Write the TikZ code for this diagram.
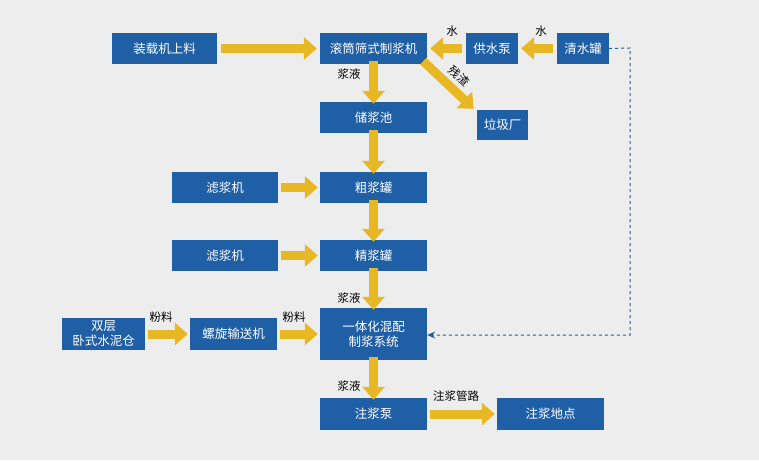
\documentclass[tikz,border=0pt]{standalone}
\usepackage{fontspec}
\setmainfont{Noto Sans CJK SC}
\usetikzlibrary{arrows.meta}
\definecolor{bg}{HTML}{EDEDED}
\definecolor{bx}{HTML}{1F5FA6}
\definecolor{ar}{HTML}{E8B824}
\begin{document}
\begin{tikzpicture}[x=1pt,y=-1pt,
  box/.style={fill=bx,text=white,font=\fontsize{12.5}{15}\selectfont,inner sep=0pt,align=center},
  ya/.style={draw=ar,line width=9pt,-{Triangle[width=22pt,length=13pt]}},
  lb/.style={font=\fontsize{11.5}{13}\selectfont,inner sep=1pt}]
\fill[bg] (0,0) rectangle (759,460);
\useasboundingbox (0,0) rectangle (759,460);
\newcommand\bx[6]{\node[box,minimum width=#4-#2,minimum height=#5-#3] (#1) at ({(#2+#4)/2},{(#3+#5)/2}) {#6};}
\bx{zz}{112}{33}{217}{64}{装载机上料}
\bx{gt}{320}{33}{427}{64}{滚筒筛式制浆机}
\bx{gs}{466}{33}{518}{64}{供水泵}
\bx{qs}{557}{33}{609}{64}{清水罐}
\bx{lj}{477}{110}{528}{140}{垃圾厂}
\bx{cj}{320}{102}{427}{133}{储浆池}
\bx{l1}{172}{172}{278}{203}{滤浆机}
\bx{cu}{320}{172}{427}{203}{粗浆罐}
\bx{l2}{172}{240}{278}{271}{滤浆机}
\bx{jj}{320}{240}{427}{271}{精浆罐}
\bx{sc}{62}{318}{145}{350}{双层\\卧式水泥仓}
\bx{lx}{190}{318}{277}{350}{螺旋输送机}
\bx{yt}{320}{308}{427}{360}{一体化混配\\制浆系统}
\bx{zb}{320}{398}{427}{430}{注浆泵}
\bx{dd}{497}{398}{604}{430}{注浆地点}
\draw[ya] (zz.east)++(4,0) -- ([xshift=-3pt]gt.west);
\draw[ya] ([xshift=-4pt]qs.west) -- ([xshift=3pt]gs.east);
\draw[ya] ([xshift=-4pt]gs.west) -- ([xshift=3pt]gt.east);
\draw[ya] ([yshift=3pt]gt.south) -- ([yshift=-2pt]cj.north);
\draw[ya] ([xshift=-4pt,yshift=3pt]gt.south east) -- ([xshift=-3pt,yshift=1pt]lj.north west);
\draw[ya] ([yshift=3pt]cj.south) -- ([yshift=-2pt]cu.north);
\draw[ya] ([yshift=3pt]cu.south) -- ([yshift=-2pt]jj.north);
\draw[ya] ([yshift=3pt]jj.south) -- ([yshift=-2pt]yt.north);
\draw[ya] ([yshift=3pt]yt.south) -- ([yshift=-2pt]zb.north);
\draw[ya] ([xshift=3pt]l1.east) -- ([xshift=-2pt]cu.west);
\draw[ya] ([xshift=3pt]l2.east) -- ([xshift=-2pt]jj.west);
\draw[ya] ([xshift=3pt]sc.east) -- ([xshift=-2pt]lx.west);
\draw[ya] ([xshift=3pt]lx.east) -- ([xshift=-2pt]yt.west);
\draw[ya] ([xshift=3pt]zb.east) -- ([xshift=-2pt]dd.west);
\coordinate (d1) at (630,48);
\coordinate (d2) at (630,335);
\draw[bx,dashed,line width=1pt,-{Stealth[length=8pt,width=7pt]}] (qs.east) -- (d1) -- (d2) -- (yt.east|-d2);
\node[lb] at (452,31) {水};
\node[lb] at (541,31) {水};
\node[lb] at (349,74) {浆液};
\node[lb,rotate=-42] at (459,76) {残渣};
\node[lb] at (349,298) {浆液};
\node[lb] at (161,317) {粉料};
\node[lb] at (294,317) {粉料};
\node[lb] at (349,386) {浆液};
\node[lb] at (456,396) {注浆管路};
\end{tikzpicture}
\end{document}
